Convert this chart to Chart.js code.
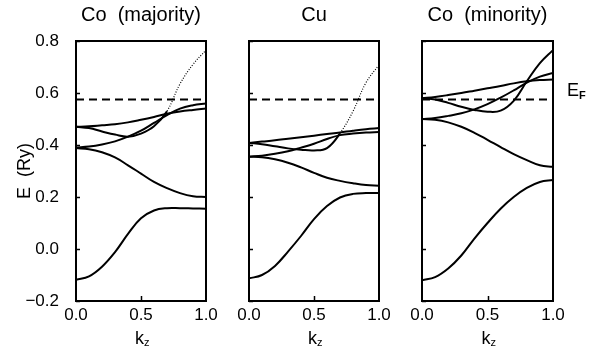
<!DOCTYPE html>
<html>
<head>
<meta charset="utf-8">
<script src="https://cdn.jsdelivr.net/npm/chart.js@4.4.1/dist/chart.umd.min.js"></script>
<style>
    html, body { margin: 0; padding: 0; background: #fff; }
    #wrap { position: relative; width: 600px; height: 348px; }
    #wrap canvas { position: absolute; left: 0; top: 0; }
</style>
</head>
<body>
<div id="wrap">
    <canvas id="panel-maj" width="600" height="348"></canvas>
    <canvas id="panel-cu" width="600" height="348"></canvas>
    <canvas id="panel-min" width="600" height="348"></canvas>
</div>
<script>
// k_z sample points shared by every band
var K = [0, 0.1, 0.2, 0.3, 0.4, 0.5, 0.6, 0.7, 0.8, 0.9, 1.0];
var E_FERMI = 0.575;
var Y_TICKS = [-0.2, 0.0, 0.2, 0.4, 0.6, 0.8];
var X_TICKS = [0.0, 0.5, 1.0];
var PANEL_TITLES = ['Co  (majority)', 'Cu', 'Co  (minority)'];

// Co majority bands (Ry)
var majBand1 = [-0.118, -0.105, -0.068, -0.012, 0.058, 0.118, 0.148, 0.157, 0.157, 0.156, 0.155];
var majBand2 = [0.388, 0.384, 0.372, 0.352, 0.322, 0.290, 0.258, 0.234, 0.215, 0.203, 0.200];
var majBand3 = [0.390, 0.394, 0.402, 0.414, 0.432, 0.455, 0.485, 0.515, 0.540, 0.553, 0.560];
var majBand4 = [0.470, 0.465, 0.452, 0.440, 0.432, 0.444, 0.472, 0.530, 0.635, 0.710, 0.765];
var majBand5 = [0.470, 0.472, 0.476, 0.480, 0.487, 0.497, 0.508, 0.520, 0.529, 0.535, 0.540];

// Cu bands (Ry)
var cuBand1 = [-0.113, -0.100, -0.065, -0.010, 0.050, 0.115, 0.165, 0.198, 0.212, 0.215, 0.215];
var cuBand2 = [0.355, 0.353, 0.345, 0.332, 0.314, 0.293, 0.274, 0.262, 0.253, 0.246, 0.243];
var cuBand3 = [0.355, 0.359, 0.366, 0.376, 0.390, 0.405, 0.423, 0.438, 0.444, 0.448, 0.450];
var cuBand4 = [0.408, 0.403, 0.395, 0.387, 0.382, 0.379, 0.388, 0.445, 0.530, 0.640, 0.708];
var cuBand5 = [0.408, 0.413, 0.418, 0.424, 0.430, 0.436, 0.442, 0.448, 0.455, 0.461, 0.465];

// Co minority bands (Ry)
var minBand1 = [-0.120, -0.108, -0.075, -0.025, 0.040, 0.100, 0.155, 0.200, 0.235, 0.258, 0.265];
var minBand2 = [0.500, 0.497, 0.487, 0.470, 0.447, 0.420, 0.392, 0.365, 0.342, 0.322, 0.316];
var minBand3 = [0.500, 0.504, 0.512, 0.522, 0.537, 0.557, 0.582, 0.610, 0.640, 0.663, 0.677];
var minBand4 = [0.580, 0.575, 0.562, 0.547, 0.535, 0.528, 0.532, 0.570, 0.645, 0.715, 0.765];
var minBand5 = [0.580, 0.585, 0.592, 0.600, 0.609, 0.618, 0.627, 0.637, 0.645, 0.650, 0.652];

(function () {
    'use strict';

    var FONT = '"Liberation Sans", Arial, sans-serif';
    var INK = '#000';

    // =========================================================================
    // Helpers
    // =========================================================================

    function toPoints(values) {
        return values.map(function (v, i) { return { x: K[i], y: v }; });
    }

    function fmt(v) {
        return Number(v).toFixed(1).replace('-', '\u2212');
    }

    function band(values, dotFrom) {
        var ds = {
            data: toPoints(values),
            borderColor: INK,
            borderWidth: 2,
            pointRadius: 0,
            fill: false,
            tension: 0.4
        };
        if (dotFrom !== undefined) {
            // s-like part of the band is drawn thin and dotted
            ds.segment = {
                borderDash: function (ctx) { return ctx.p0.parsed.x >= dotFrom - 1e-9 ? [1, 1.6] : undefined; },
                borderWidth: function (ctx) { return ctx.p0.parsed.x >= dotFrom - 1e-9 ? 1.2 : undefined; }
            };
        }
        return ds;
    }

    function fermiLine() {
        return {
            data: [{ x: 0, y: E_FERMI }, { x: 1, y: E_FERMI }],
            borderColor: INK,
            borderWidth: 2,
            borderDash: [8, 5],
            pointRadius: 0,
            fill: false
        };
    }

    // Frame, inward ticks and the text around each panel
    function decorations(title, showEf) {
        return {
            id: 'decorations',
            afterDraw: function (chart) {
                var c = chart.ctx;
                var a = chart.chartArea;
                var xs = chart.scales.x;
                var ys = chart.scales.y;
                var mid = (a.left + a.right) / 2;

                c.save();
                c.strokeStyle = INK;
                c.lineWidth = 2;
                c.strokeRect(a.left, a.top, a.right - a.left, a.bottom - a.top);

                c.lineWidth = 1.5;
                c.beginPath();
                Y_TICKS.forEach(function (v) {
                    var y = Math.round(ys.getPixelForValue(v)) + 0.5;
                    c.moveTo(a.left, y);
                    c.lineTo(a.left + 4, y);
                });
                var xm = Math.round(xs.getPixelForValue(0.5)) + 0.5;
                c.moveTo(xm, a.bottom);
                c.lineTo(xm, a.bottom - 5);
                c.stroke();

                c.fillStyle = INK;
                c.textBaseline = 'middle';
                c.textAlign = 'center';
                c.font = '20px ' + FONT;
                c.fillText(title, mid, 15);

                c.font = '18px ' + FONT;
                c.textAlign = 'right';
                c.fillText('k', mid + 3, 339);
                c.font = '11px ' + FONT;
                c.textAlign = 'left';
                c.fillText('z', mid + 3, 343);

                if (showEf) {
                    c.font = '18px ' + FONT;
                    c.fillText('E', a.right + 14, 91);
                    c.font = 'bold 11px ' + FONT;
                    c.fillText('F', a.right + 26, 96);
                }
                c.restore();
            }
        };
    }

    // =========================================================================
    // Panels
    // =========================================================================

    function buildPanel(canvasId, left, right, bands, title, opts) {
        opts = opts || {};
        var showY = !!opts.showY;

        new Chart(document.getElementById(canvasId), {
            type: 'line',
            data: { datasets: [fermiLine()].concat(bands) },
            options: {
                responsive: false,
                animation: false,
                events: [],
                layout: {
                    padding: { left: 0, right: 600 - right, top: 41, bottom: 0 }
                },
                plugins: {
                    legend: { display: false },
                    tooltip: { enabled: false }
                },
                scales: {
                    x: {
                        type: 'linear',
                        min: 0,
                        max: 1,
                        afterBuildTicks: function (s) {
                            s.ticks = X_TICKS.map(function (v) { return { value: v }; });
                        },
                        afterFit: function (s) { s.height = 47; },
                        grid: { display: false },
                        border: { display: false },
                        ticks: {
                            color: INK,
                            padding: -4,
                            maxRotation: 0,
                            font: { family: FONT, size: 17 },
                            callback: function (v) { return fmt(v); }
                        }
                    },
                    y: {
                        type: 'linear',
                        min: -0.2,
                        max: 0.8,
                        afterBuildTicks: function (s) {
                            s.ticks = Y_TICKS.map(function (v) { return { value: v }; });
                        },
                        afterFit: function (s) { s.width = left; },
                        grid: { display: false },
                        border: { display: false },
                        title: {
                            display: showY,
                            text: 'E  (Ry)',
                            color: INK,
                            padding: { top: 14, bottom: 0 },
                            font: { family: FONT, size: 18 }
                        },
                        ticks: {
                            display: showY,
                            color: INK,
                            padding: 9,
                            font: { family: FONT, size: 17 },
                            callback: function (v) { return fmt(v); }
                        }
                    }
                }
            },
            plugins: [decorations(title, !!opts.showEf)]
        });
    }

    buildPanel('panel-maj', 76, 206, [
        band(majBand1), band(majBand2), band(majBand3), band(majBand4, 0.7), band(majBand5)
    ], PANEL_TITLES[0], { showY: true });

    buildPanel('panel-cu', 249, 379, [
        band(cuBand1), band(cuBand2), band(cuBand3), band(cuBand4, 0.7), band(cuBand5)
    ], PANEL_TITLES[1]);

    buildPanel('panel-min', 422, 553, [
        band(minBand1), band(minBand2), band(minBand3), band(minBand4), band(minBand5)
    ], PANEL_TITLES[2], { showEf: true });

})();
</script>
</body>
</html>
